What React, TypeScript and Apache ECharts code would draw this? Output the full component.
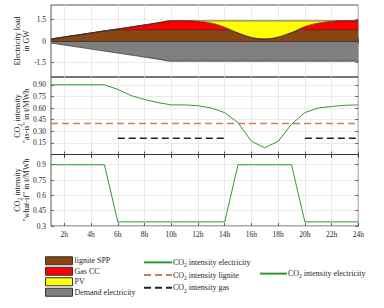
import React, { useEffect, useRef } from 'react';
import * as echarts from 'echarts';

const hours = ['1h','2h','3h','4h','5h','6h','7h','8h','9h','10h','11h','12h','13h','14h','15h','16h','17h','18h','19h','20h','21h','22h','23h','24h'];

const ligniteSPP = [0.14,0.28,0.42,0.56,0.70,0.77,0.77,0.77,0.77,0.77,0.77,0.77,0.77,0.77,0.55,0.24,0.14,0.26,0.58,0.77,0.77,0.77,0.77,0.77];
const gasCC = [0,0,0,0,0,0.07,0.21,0.35,0.49,0.63,0.63,0.59,0.47,0.19,0,0,0,0,0,0.23,0.47,0.59,0.63,0.63];
const pv = [0,0,0,0,0,0,0,0,0,0,0,0.04,0.16,0.44,0.85,1.16,1.26,1.14,0.82,0.40,0.16,0.04,0,0];
const demand = [-0.14,-0.28,-0.42,-0.56,-0.70,-0.84,-0.98,-1.12,-1.26,-1.40,-1.40,-1.40,-1.40,-1.40,-1.40,-1.40,-1.40,-1.40,-1.40,-1.40,-1.40,-1.40,-1.40,-1.40];

const co2AsIs = [0.9,0.9,0.9,0.9,0.9,0.84,0.76,0.71,0.67,0.64,0.64,0.63,0.60,0.54,0.41,0.17,0.086,0.17,0.39,0.54,0.60,0.62,0.635,0.64];
const co2Lignite = [0.4,0.4,0.4,0.4,0.4,0.4,0.4,0.4,0.4,0.4,0.4,0.4,0.4,0.4,0.4,0.4,0.4,0.4,0.4,0.4,0.4,0.4,0.4,0.4];
const co2Gas = [null,null,null,null,null,0.21,0.21,0.21,0.21,0.21,0.21,0.21,0.21,0.21,null,null,null,null,null,0.21,0.21,0.21,0.21,0.21];
const co2WhatIf = [0.9,0.9,0.9,0.9,0.9,0.34,0.34,0.34,0.34,0.34,0.34,0.34,0.34,0.34,0.9,0.9,0.9,0.9,0.9,0.34,0.34,0.34,0.34,0.34];

const ticks1 = [-1.5, 0, 1.5];
const ticks2 = [0.15, 0.3, 0.45, 0.6, 0.75, 0.9];
const ticks3 = [0.3, 0.45, 0.6, 0.75, 0.9];

const FONT = 'Liberation Serif';
const TXT = '#262626';
const GREEN = '#2e9a2e';
const TAN = '#c98155';
const EDGE = '#2b2b2b';

export default function App() {
  const ref = useRef<HTMLDivElement>(null);
  useEffect(() => {
    if (!ref.current) return;
    const chart = echarts.init(ref.current, undefined, { renderer: 'svg' });
    const grids = [
      { left: 51, right: 25.7, top: 5, height: 72 },
      { left: 51, right: 25.7, top: 77, height: 77.5 },
      { left: 51, right: 25.7, top: 154.5, height: 71.5 },
    ];
    const everyOther = (idx: number) => idx % 2 === 1;
    const xAxes: any[] = [];
    grids.forEach((_, i) => {
      xAxes.push({
        type: 'category', gridIndex: i, data: hours, boundaryGap: false,
        axisLine: { show: false },
        axisTick: { inside: true, length: 3, interval: everyOther, lineStyle: { color: EDGE, width: 0.7 } },
        axisLabel: { show: i === 2, interval: everyOther, fontFamily: FONT, fontSize: 7.5, color: TXT, margin: 4 },
        splitLine: { show: true, interval: everyOther, lineStyle: { color: '#e2e2e2', width: 0.7 } },
      });
      xAxes.push({
        type: 'category', gridIndex: i, data: hours, boundaryGap: false, position: 'top',
        axisLine: { show: false },
        axisTick: { inside: true, length: 3, interval: everyOther, lineStyle: { color: EDGE, width: 0.7 } },
        axisLabel: { show: false }, splitLine: { show: false },
      });
    });
    const yDefs = [
      { min: -2.5, max: 2.5, ticks: ticks1, fmt: (v: number) => String(v) },
      { min: 0, max: 1, ticks: ticks2, fmt: (v: number) => v.toFixed(2) },
      { min: 0.3, max: 1, ticks: ticks3, fmt: (v: number) => String(parseFloat(v.toFixed(2))) },
    ];
    const yAxes: any[] = [];
    yDefs.forEach((d, i) => {
      yAxes.push({
        type: 'value', gridIndex: i, min: d.min, max: d.max,
        axisLine: { show: false },
        axisTick: { show: true, inside: true, length: 3, customValues: d.ticks, lineStyle: { color: EDGE, width: 0.7 } },
        axisLabel: { customValues: d.ticks, formatter: d.fmt, fontFamily: FONT, fontSize: 7.5, color: TXT, margin: 5 },
        splitLine: { show: true, customValues: d.ticks, lineStyle: { color: '#e2e2e2', width: 0.7 } },
      });
      yAxes.push({
        type: 'value', gridIndex: i, min: d.min, max: d.max, position: 'right',
        axisLine: { show: false },
        axisTick: { show: true, inside: true, length: 3, customValues: d.ticks, lineStyle: { color: EDGE, width: 0.7 } },
        axisLabel: { show: false }, splitLine: { show: false },
      });
    });
    const area = (name: string, data: number[], color: string, stack: string) => ({
      name, type: 'line', xAxisIndex: 0, yAxisIndex: 0, stack, data, symbol: 'none', smooth: 0.4,
      lineStyle: { color: EDGE, width: 0.7 }, itemStyle: { color }, areaStyle: { color, opacity: 1 },
    });
    const sub = { fontSize: 5.5, verticalAlign: 'bottom', fontFamily: FONT, color: TXT };
    const co2fmt = (name: string) => name.replace('CO2', 'CO{sub|2}');
    const titleStyle = (text: string) => ({
      text, fontFamily: FONT, fontSize: 8, fill: TXT, align: 'center', verticalAlign: 'middle', lineHeight: 11.5,
      rich: { sub: { fontSize: 6, verticalAlign: 'bottom', fontFamily: FONT, fill: TXT } },
    });
    const ttl = (x: number, y: number, text: string) => ({ type: 'text', x, y, rotation: Math.PI / 2, style: titleStyle(text) });
    const lineLegendText = { fontFamily: FONT, fontSize: 8, color: TXT, lineHeight: 11.7, padding: [0, 0, 0, -4], rich: { sub } };
    chart.setOption({
      animation: false,
      grid: grids.map((g) => ({ ...g, show: true, borderColor: EDGE, borderWidth: 0.8, backgroundColor: 'transparent' })),
      xAxis: xAxes,
      yAxis: yAxes,
      legend: [
        {
          left: 45, top: 255.5, padding: 0, orient: 'vertical', itemWidth: 27, itemHeight: 8, itemGap: 0, icon: 'rect', selectedMode: false,
          data: [
            { name: 'lignite SPP', itemStyle: { color: '#8B4513', borderColor: '#333', borderWidth: 1 } },
            { name: 'Gas CC', itemStyle: { color: '#ff0000', borderColor: '#333', borderWidth: 1 } },
            { name: 'PV', itemStyle: { color: '#ffff00', borderColor: '#333', borderWidth: 1 } },
            { name: 'Demand electricity', itemStyle: { color: '#808080', borderColor: '#333', borderWidth: 1 } },
          ],
          textStyle: { fontFamily: FONT, fontSize: 8, color: TXT, lineHeight: 10.5, padding: [0, 0, 0, -3] },
        },
        {
          left: 143, top: 256.5, padding: 0, orient: 'vertical', itemWidth: 28, itemHeight: 10, itemGap: 1, selectedMode: false,
          itemStyle: { opacity: 0 },
          data: ['CO2 intensity electricity', 'CO2 intensity lignite', 'CO2 intensity gas'],
          formatter: co2fmt,
          textStyle: lineLegendText,
        },
        {
          left: 259, top: 267.8, padding: 0, orient: 'vertical', itemWidth: 27, itemHeight: 10, selectedMode: false,
          itemStyle: { opacity: 0 },
          data: ['CO2 intensity electricity'],
          formatter: co2fmt,
          textStyle: lineLegendText,
        },
      ],
      graphic: [
        ttl(17, 41, 'Electricity load'),
        ttl(26, 41, 'in GW'),
        ttl(17, 116, 'CO{sub|2} intensity'),
        ttl(26, 116, '"as-is" in t/MWh'),
        ttl(17, 190, 'CO{sub|2} intensity'),
        ttl(26, 190, '"what-if" in t/MWh'),
      ],
      series: [
        area('lignite SPP', ligniteSPP, '#8B4513', 'pos'),
        area('Gas CC', gasCC, '#ff0000', 'pos'),
        area('PV', pv, '#ffff00', 'pos'),
        {
          ...area('Demand electricity', demand, '#808080', 'neg'),
          markLine: { silent: true, symbol: 'none', label: { show: false }, lineStyle: { color: EDGE, width: 0.8, type: 'solid' }, data: [{ yAxis: 0 }] },
        },
        { name: 'CO2 intensity electricity', type: 'line', xAxisIndex: 2, yAxisIndex: 2, data: co2AsIs, symbol: 'none', lineStyle: { color: GREEN, width: 1 }, itemStyle: { color: GREEN } },
        { name: 'CO2 intensity lignite', type: 'line', xAxisIndex: 2, yAxisIndex: 2, data: co2Lignite, symbol: 'none', lineStyle: { color: TAN, width: 1.3, type: [7, 4] }, itemStyle: { color: TAN } },
        { name: 'CO2 intensity gas', type: 'line', xAxisIndex: 2, yAxisIndex: 2, data: co2Gas, symbol: 'none', connectNulls: false, lineStyle: { color: '#222', width: 1.3, type: [7, 4] }, itemStyle: { color: '#222' } },
        { name: 'CO2 intensity electricity', type: 'line', xAxisIndex: 4, yAxisIndex: 4, data: co2WhatIf, symbol: 'none', lineStyle: { color: GREEN, width: 1 }, itemStyle: { color: GREEN } },
      ],
    });
    return () => chart.dispose();
  }, []);
  return <div ref={ref} style={{ position: 'absolute', left: 0, top: 0, width: 384, height: 308 }} />;
}
